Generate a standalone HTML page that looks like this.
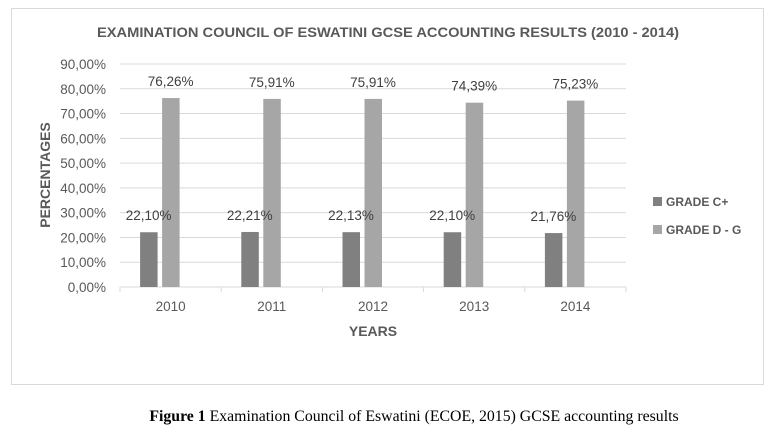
<!DOCTYPE html>
<html><head><meta charset="utf-8"><style>
body{margin:0;background:#fff;width:769px;height:430px;overflow:hidden;font-family:"Liberation Sans",sans-serif}
svg text{font-family:"Liberation Sans",sans-serif}
</style></head><body>
<svg width="769" height="430">
<rect x="11.5" y="8.5" width="752" height="376" fill="#fff" stroke="#d9d9d9"/>
<text x="388" y="37" text-anchor="middle" font-size="14" font-weight="bold" fill="#595959" textLength="582" lengthAdjust="spacingAndGlyphs">EXAMINATION COUNCIL OF ESWATINI GCSE ACCOUNTING RESULTS (2010 - 2014)</text>
<g id="grid"></g><g id="bars"></g><g id="axes"></g>
<text transform="translate(50,175) rotate(-90)" text-anchor="middle" font-size="14" font-weight="bold" fill="#595959">PERCENTAGES</text>
<text x="373" y="336" text-anchor="middle" font-size="14" font-weight="bold" fill="#595959">YEARS</text>
<g>
<rect x="653" y="197" width="9" height="9" fill="#808080"/>
<text x="666" y="206" font-size="12" font-weight="bold" fill="#595959">GRADE C+</text>
<rect x="653" y="225" width="9" height="9" fill="#a6a6a6"/>
<text x="666" y="234" font-size="12" font-weight="bold" fill="#595959">GRADE D - G</text>
</g>
<text x="414" y="421" text-anchor="middle" font-size="15.8" fill="#000" style="font-family:'Liberation Serif',serif"><tspan font-weight="bold">Figure 1</tspan> Examination Council of Eswatini (ECOE, 2015) GCSE accounting results</text>
</svg>
<script>
const categories=["2010","2011","2012","2013","2014"];
const gradeC=[22.10,22.21,22.13,22.10,21.76];
const gradeDG=[76.26,75.91,75.91,74.39,75.23];
const yTicks=[0,10,20,30,40,50,60,70,80,90];
const NS="http://www.w3.org/2000/svg";
const x0=120,x1=626,y0=287,y90=64;
const cw=(x1-x0)/categories.length;
const y=v=>y0-(v/90)*(y0-y90);
const fmt=v=>v.toFixed(2).replace('.',',')+'%';
function mk(tag,attrs,parent,text){const e=document.createElementNS(NS,tag);for(const k in attrs)e.setAttribute(k,attrs[k]);if(text!==undefined)e.textContent=text;document.getElementById(parent).appendChild(e);return e;}
yTicks.forEach(t=>{
 const l=mk('line',{x1:x0,x2:x1,y1:y(t),y2:y(t),stroke:'#d9d9d9'},'grid');
 
 
 const tx=mk('text',{x:106,y:y(t)+5,'text-anchor':'end','font-size':13.5,fill:'#595959'},'grid',t.toFixed(2).replace('.',',')+'%');
 
 
});
for(let i=0;i<=categories.length;i++){
 const l=mk('line',{x1:x0+i*cw,x2:x0+i*cw,y1:y0,y2:y0+5,stroke:'#d9d9d9'},'axes');
 
 
}
categories.forEach((c,i)=>{
 const cx=x0+i*cw+cw/2;
 const t=mk('text',{x:cx,y:y0+24,'text-anchor':'middle','font-size':13.5,fill:'#595959'},'axes',c);
 
 
 const bw=17.5;
 const b1=mk('rect',{x:cx-30.5,y:y(gradeC[i]),width:bw,height:y0-y(gradeC[i]),fill:'#808080'},'bars');
 
 
 const b2=mk('rect',{x:cx-8.5,y:y(gradeDG[i]),width:bw,height:y0-y(gradeDG[i]),fill:'#a6a6a6'},'bars');
 
 
 const l1=mk('text',{x:cx-22,y:y(gradeC[i])-12,'text-anchor':'middle','font-size':13.5,fill:'#404040'},'bars',fmt(gradeC[i]));
 
 
 const l2=mk('text',{x:cx,y:y(gradeDG[i])-12,'text-anchor':'middle','font-size':13.5,fill:'#404040'},'bars',fmt(gradeDG[i]));
 
 
});
</script>
</body></html>
